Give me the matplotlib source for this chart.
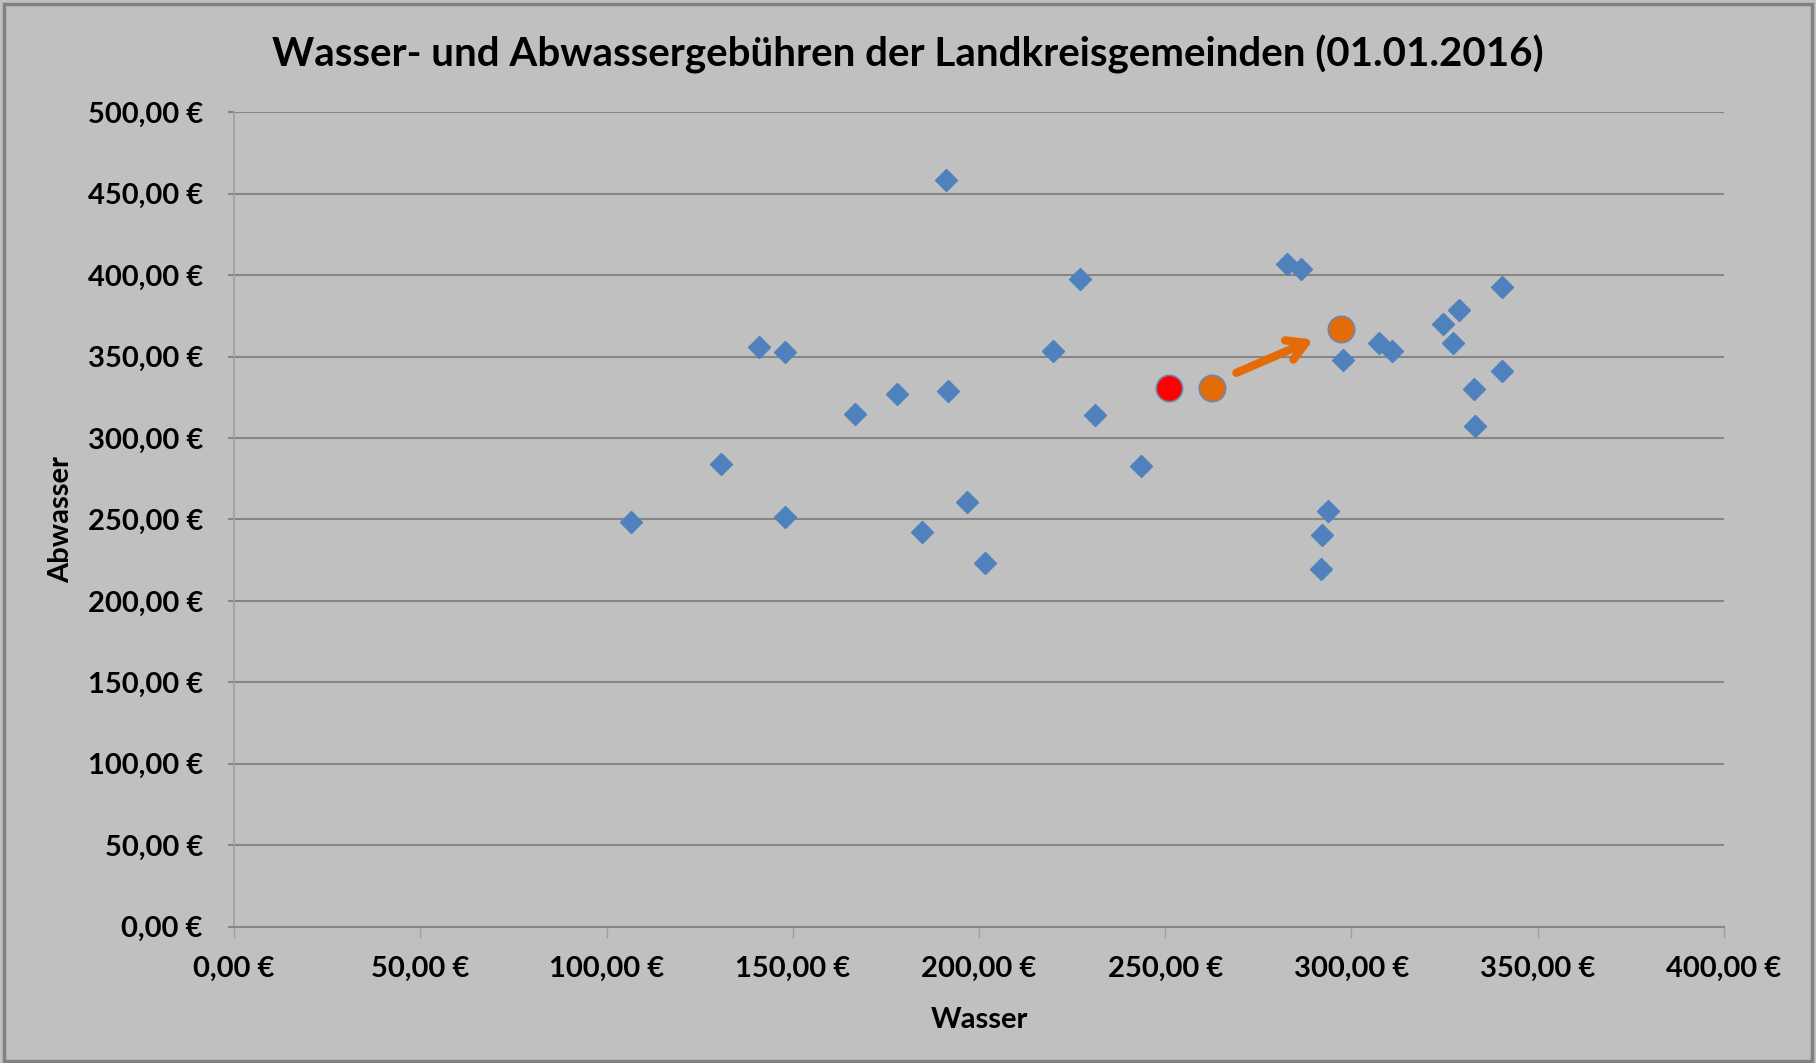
import matplotlib.pyplot as plt
from matplotlib.patches import Rectangle
from matplotlib.ticker import FuncFormatter

# Wasser (x) / Abwasser (y) fees per municipality, in EUR
wasser = [106.6, 130.8, 140.8, 147.9, 148.0, 166.6, 178.0, 184.6, 191.1, 191.7,
          196.7, 201.7, 220.0, 227.2, 231.2, 243.6, 282.8, 286.5, 291.8, 292.0,
          293.7, 297.7, 307.3, 311.0, 324.7, 328.8, 327.2, 332.8, 333.1, 340.3,
          340.3]
abwasser = [248.2, 283.8, 355.6, 352.8, 251.8, 315.0, 327.0, 242.5, 458.7, 328.6,
            261.0, 223.3, 353.5, 397.6, 314.4, 283.0, 406.8, 404.0, 219.8, 240.4,
            255.3, 347.8, 358.5, 353.5, 369.8, 378.4, 358.5, 330.0, 307.3, 392.6,
            341.4]

# highlighted municipality: current (red), old and new values (orange)
hl_red = (251.1, 330.7)
hl_orange_x = [262.6, 297.1]
hl_orange_y = [330.7, 367.0]

arrow_start = (269.1, 340.0)
arrow_end = (289.8, 360.5)

plt.rcParams['font.family'] = ['Lato', 'DejaVu Sans']
plt.rcParams['font.weight'] = 'bold'

bg = '#c0c0c0'
fig = plt.figure(figsize=(18.16, 10.63), dpi=100, facecolor=bg)
ax = fig.add_axes([0.1289, 0.1283, 0.8204, 0.7661])
ax.set_facecolor(bg)

# border around the chart area
fig.patches.append(Rectangle((0.002, 0.002), 0.996, 0.994, transform=fig.transFigure,
                             fill=False, edgecolor='#808080', lw=2.5))

ax.plot(wasser, abwasser, linestyle='none', marker='D', markersize=11.5,
        color='#4f81bd', zorder=3)
ax.plot(hl_orange_x, hl_orange_y, linestyle='none', marker='o', markersize=19,
        markerfacecolor='#e36c09', markeredgecolor='#6f87b0', markeredgewidth=1.2, zorder=4)
ax.plot([hl_red[0]], [hl_red[1]], linestyle='none', marker='o', markersize=19,
        markerfacecolor='#ff0000', markeredgecolor='#6f87b0', markeredgewidth=1.2, zorder=4)

ax.annotate('', xy=arrow_end, xytext=arrow_start,
            arrowprops=dict(arrowstyle='->,head_length=1.3,head_width=0.75',
                            color='#e36c09', lw=6, capstyle='round',
                            joinstyle='round', shrinkA=0, shrinkB=0),
            zorder=5)

ax.set_xlim(0, 400)
ax.set_ylim(0, 500)
ax.set_xticks(range(0, 401, 50))
ax.set_yticks(range(0, 501, 50))

euro = FuncFormatter(lambda v, p: f"{v:.2f}".replace('.', ',') + ' €')
ax.xaxis.set_major_formatter(euro)
ax.yaxis.set_major_formatter(euro)

ax.yaxis.grid(True, color='#868686', lw=1.5)
ax.set_axisbelow(True)

for s in ['top', 'right']:
    ax.spines[s].set_visible(False)
ax.spines['left'].set_color('#a0a0a0')
ax.spines['left'].set_linewidth(1.2)
ax.spines['bottom'].set_color('#868686')
ax.spines['bottom'].set_linewidth(1.5)

ax.tick_params(axis='x', length=8, width=1, color='#a0a0a0', pad=13, labelsize=21)
ax.tick_params(axis='y', length=4.5, width=1.5, color='#868686', pad=18, labelsize=21)
for lbl in ax.get_xticklabels() + ax.get_yticklabels():
    lbl.set_fontweight('bold')

ax.set_xlabel('Wasser', fontsize=21, fontweight='bold', labelpad=18)
ax.set_ylabel('Abwasser', fontsize=21, fontweight='bold', labelpad=10)

fig.suptitle('Wasser- und Abwassergebühren der Landkreisgemeinden (01.01.2016)',
             fontsize=29, fontweight='bold', x=0.5, y=0.949, va='center')

fig.savefig('out.png', dpi=100, facecolor=bg)
